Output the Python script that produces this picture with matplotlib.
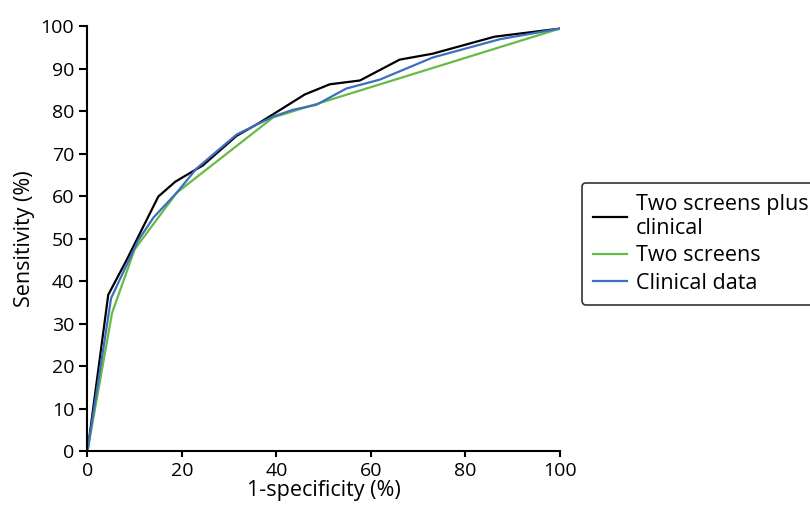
import matplotlib
matplotlib.use("Agg")
import matplotlib.pyplot as plt

plt.rcParams["font.family"] = ["Open Sans", "DejaVu Sans"]

# ROC curves (1-specificity %, sensitivity %)
combined_x = [0, 4.4, 8.3, 15.0, 18.6, 24.4, 31.6, 36.5, 46.0, 51.3, 57.7, 66.1, 73.1, 86.2, 100]
combined_y = [0, 36.8, 45.0, 59.9, 63.4, 67.2, 74.2, 77.3, 83.9, 86.3, 87.2, 92.1, 93.5, 97.5, 99.4]

screens_x = [0, 5.2, 10.0, 18.9, 39.3, 100]
screens_y = [0, 32.5, 47.5, 60.8, 78.5, 99.4]

clinical_x = [0, 5.0, 10.7, 14.0, 18.9, 23.1, 31.6, 39.3, 43.5, 48.5, 54.8, 61.9, 73.1, 87.3, 100]
clinical_y = [0, 36.0, 49.5, 55.0, 60.8, 66.5, 74.5, 78.7, 80.3, 81.5, 85.3, 87.4, 92.6, 96.9, 99.4]

fig = plt.figure(figsize=(8.1, 5.11), dpi=100)
ax = fig.add_axes([0.108, 0.117, 0.583, 0.832])

ax.plot(combined_x, combined_y, color="black", lw=1.6, label="Two screens plus\nclinical")
ax.plot(screens_x, screens_y, color="#66bb46", lw=1.6, label="Two screens")
ax.plot(clinical_x, clinical_y, color="#3d6ebf", lw=1.6, label="Clinical data")

ax.set_xlim(0, 100)
ax.set_ylim(0, 100)
ax.set_xticks(range(0, 101, 20))
ax.set_yticks(range(0, 101, 10))
ax.tick_params(axis="y", labelsize=14, width=1.5, length=6, pad=3.5, direction="out")
ax.tick_params(axis="x", labelsize=14, width=1.5, length=4, pad=4, direction="out")
for s in ("top", "right"):
    ax.spines[s].set_visible(False)
for s in ("left", "bottom"):
    ax.spines[s].set_linewidth(1.5)
ax.set_xlabel("1-specificity (%)", fontsize=15.5, labelpad=0)
ax.set_ylabel("Sensitivity (%)", fontsize=15.5, labelpad=4)
ax.margins(0)

leg = fig.legend(loc="upper left", bbox_to_anchor=(0.7185, 0.642), fontsize=15.5,
                 handlelength=1.6, handletextpad=0.4, labelspacing=0.3,
                 borderpad=0.5, borderaxespad=0, frameon=True, fancybox=True)
leg.get_frame().set_edgecolor("black")
leg.get_frame().set_linewidth(1.2)

fig.savefig("out.png", dpi=100)
